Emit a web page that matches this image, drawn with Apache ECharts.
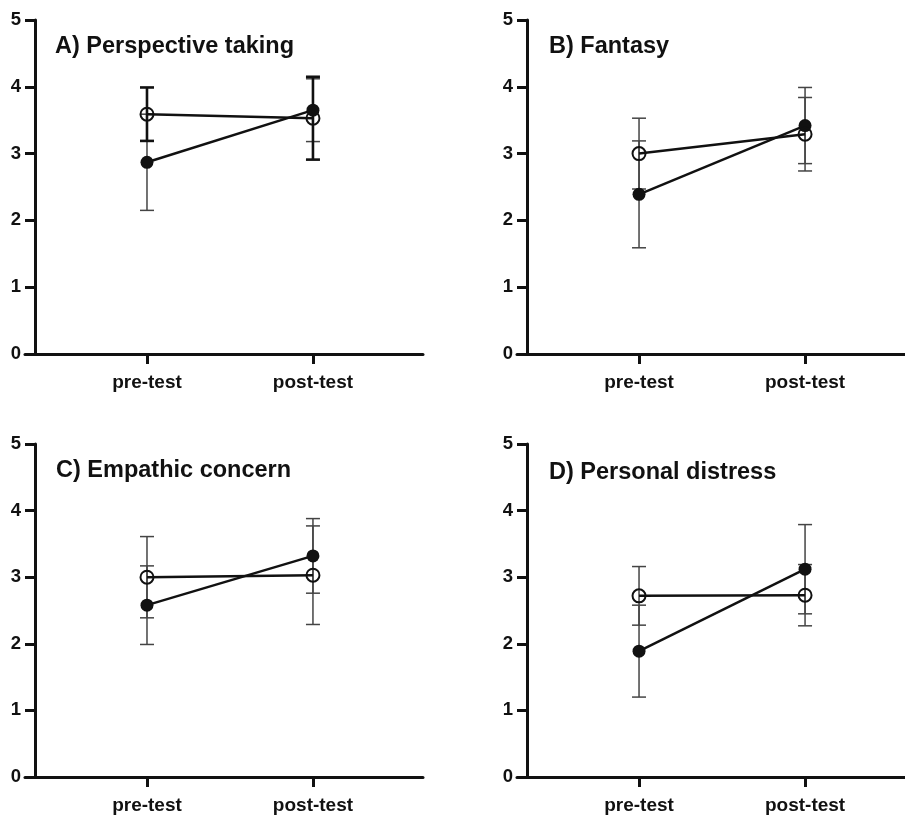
<!DOCTYPE html>
<html>
<head>
<meta charset="utf-8">
<script src="https://cdn.jsdelivr.net/npm/echarts@6/dist/echarts.min.js"></script>
<style>
html,body{margin:0;padding:0;background:#fff;}
#chart{width:905px;height:815px;}
</style>
</head>
<body>
<div id="chart"></div>
<script>
// ---- Data ----
const categories = ['pre-test', 'post-test'];
const yTicks = [0, 1, 2, 3, 4, 5];
const panelTitles = ['A) Perspective taking', 'B) Fantasy', 'C) Empathic concern', 'D) Personal distress'];

// open circles (group 1): means and error half-widths at pre-test / post-test
const openMeanA = [3.59, 3.53];
const openErrA  = [0.40, 0.62];
const openMeanB = [3.00, 3.29];
const openErrB  = [0.53, 0.55];
const openMeanC = [3.00, 3.03];
const openErrC  = [0.61, 0.74];
const openMeanD = [2.72, 2.73];
const openErrD  = [0.44, 0.46];

// filled circles (group 2)
const filledMeanA = [2.87, 3.65];
const filledErrA  = [0.72, 0.47];
const filledMeanB = [2.39, 3.42];
const filledErrB  = [0.80, 0.57];
const filledMeanC = [2.58, 3.32];
const filledErrC  = [0.59, 0.56];
const filledMeanD = [1.89, 3.12];
const filledErrD  = [0.69, 0.67];

const openMeans = [openMeanA, openMeanB, openMeanC, openMeanD];
const openErrs = [openErrA, openErrB, openErrC, openErrD];
const filledMeans = [filledMeanA, filledMeanB, filledMeanC, filledMeanD];
const filledErrs = [filledErrA, filledErrB, filledErrC, filledErrD];

// ---- Layout ----
const FONT = '"Liberation Sans", Arial, Helvetica, sans-serif';
const gridPos = [
  {left: 25, top: 20, width: 398, height: 334},
  {left: 517, top: 20, width: 388, height: 334},
  {left: 25, top: 444, width: 398, height: 335},
  {left: 517, top: 444, width: 388, height: 335}
];
const xMaxes = [2.663, 2.602, 2.663, 2.602];
const titlePos = [
  {left: 55, top: 35},
  {left: 549, top: 35},
  {left: 56, top: 459},
  {left: 549, top: 461}
];
// thicker error bars for the open-circle group in panel A
const errStyle = [
  {open: {w: 2.6, c: '#111'}, filled: {w: 1.5, c: '#444'}},
  {open: {w: 1.5, c: '#444'}, filled: {w: 1.5, c: '#444'}},
  {open: {w: 1.5, c: '#444'}, filled: {w: 1.5, c: '#444'}},
  {open: {w: 1.5, c: '#444'}, filled: {w: 1.5, c: '#444'}}
];

function errRender(style) {
  return function (params, api) {
    const x = api.value(0), lo = api.value(1), hi = api.value(2);
    const pLo = api.coord([x, lo]);
    const pHi = api.coord([x, hi]);
    const hw = 7;
    const s = {stroke: style.c, lineWidth: style.w};
    return {
      type: 'group',
      children: [
        {type: 'line', shape: {x1: pLo[0], y1: pLo[1], x2: pHi[0], y2: pHi[1]}, style: s},
        {type: 'line', shape: {x1: pLo[0] - hw, y1: pLo[1], x2: pLo[0] + hw, y2: pLo[1]}, style: s},
        {type: 'line', shape: {x1: pHi[0] - hw, y1: pHi[1], x2: pHi[0] + hw, y2: pHi[1]}, style: s}
      ]
    };
  };
}

const grids = [], xAxes = [], yAxes = [], series = [], titles = [];
for (let i = 0; i < 4; i++) {
  grids.push(Object.assign({containLabel: false}, gridPos[i]));
  titles.push({
    text: panelTitles[i],
    left: titlePos[i].left, top: titlePos[i].top, padding: 0,
    textStyle: {fontFamily: FONT, fontSize: 23.5, fontWeight: 'bold', color: '#111'}
  });
  xAxes.push({
    gridIndex: i, type: 'value', min: 0.265, max: xMaxes[i],
    axisLine: {show: true, onZero: false, lineStyle: {color: '#111', width: 3}},
    axisTick: {show: true, customValues: [1, 2], length: 10, lineStyle: {color: '#111', width: 3}},
    axisLabel: {
      show: true, customValues: [1, 2], margin: 19,
      formatter: v => categories[Math.round(v) - 1] || '',
      fontFamily: FONT, fontSize: 19, fontWeight: 'bold', color: '#111'
    },
    splitLine: {show: false}
  });
  yAxes.push({
    gridIndex: i, type: 'value', min: 0, max: 5, interval: 1, offset: -10,
    axisLine: {show: true, onZero: false, lineStyle: {color: '#111', width: 3}},
    axisTick: {show: true, length: 10, lineStyle: {color: '#111', width: 3}},
    axisLabel: {
      margin: 14, formatter: v => (yTicks.indexOf(v) >= 0 ? String(v) : ''),
      fontFamily: FONT, fontSize: 18.5, fontWeight: 'bold', color: '#111'
    },
    splitLine: {show: false}
  });

  const openData = categories.map((c, k) => [k + 1, openMeans[i][k]]);
  const filledData = categories.map((c, k) => [k + 1, filledMeans[i][k]]);
  const openErrData = categories.map((c, k) => [k + 1, openMeans[i][k] - openErrs[i][k], openMeans[i][k] + openErrs[i][k]]);
  const filledErrData = categories.map((c, k) => [k + 1, filledMeans[i][k] - filledErrs[i][k], filledMeans[i][k] + filledErrs[i][k]]);

  series.push({
    type: 'custom', xAxisIndex: i, yAxisIndex: i, z: 1,
    renderItem: errRender(errStyle[i].filled), data: filledErrData,
    encode: {x: 0, y: [1, 2]}, silent: true
  });
  series.push({
    type: 'custom', xAxisIndex: i, yAxisIndex: i, z: 1,
    renderItem: errRender(errStyle[i].open), data: openErrData,
    encode: {x: 0, y: [1, 2]}, silent: true
  });
  series.push({
    type: 'line', xAxisIndex: i, yAxisIndex: i, z: 3, data: filledData,
    symbol: 'circle', symbolSize: 13,
    lineStyle: {color: '#111', width: 2.5},
    itemStyle: {color: '#111', borderColor: '#111', borderWidth: 0},
    animation: false
  });
  series.push({
    type: 'line', xAxisIndex: i, yAxisIndex: i, z: 4, data: openData,
    symbol: 'circle', symbolSize: 13,
    lineStyle: {color: '#111', width: 2.5},
    itemStyle: {color: 'rgba(255,255,255,0)', borderColor: '#111', borderWidth: 2},
    animation: false
  });
}

const chart = echarts.init(document.getElementById('chart'), null, {renderer: 'canvas'});
chart.setOption({
  backgroundColor: '#fff',
  animation: false,
  title: titles,
  grid: grids,
  xAxis: xAxes,
  yAxis: yAxes,
  series: series
});
</script>
</body>
</html>
